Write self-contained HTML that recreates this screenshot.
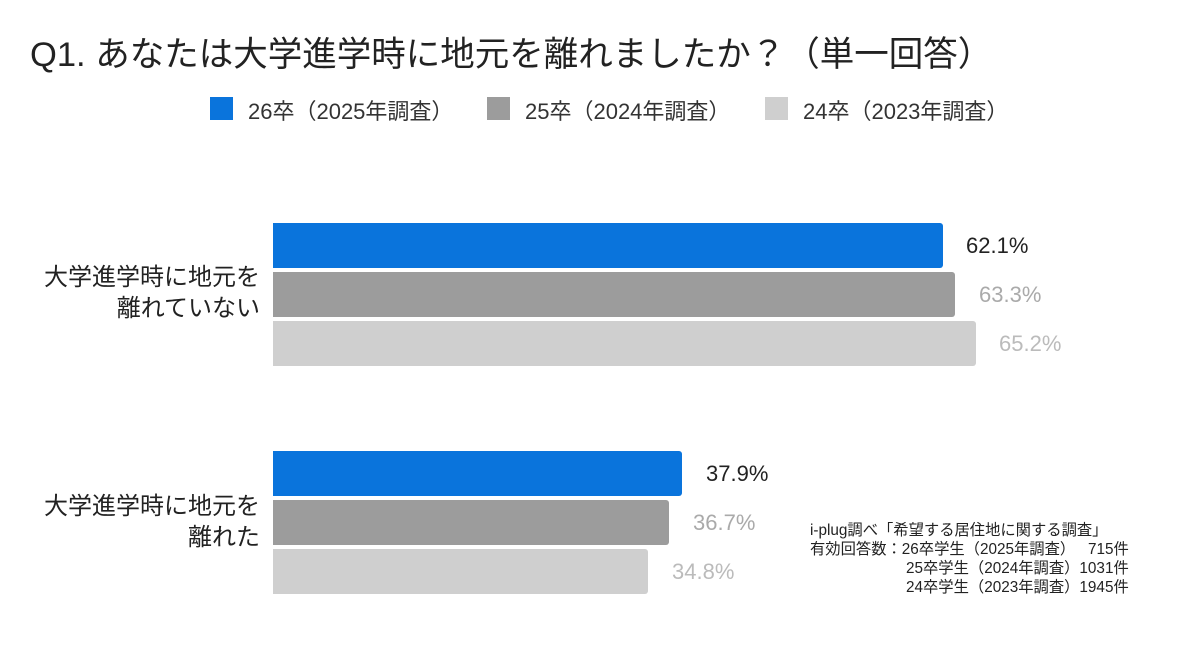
<!DOCTYPE html>
<html><head><meta charset="utf-8"><style>
body{margin:0;width:1200px;height:651px;background:#fff;position:relative;overflow:hidden;font-family:"Liberation Sans","Noto Sans CJK JP",sans-serif;color:#222}
.a{position:absolute;white-space:nowrap}
.bar{position:absolute;left:273px;height:45px;border-radius:0 3px 3px 0}
.b1{background:#0a74dc}.b2{background:#9c9c9c}.b3{background:#cfcfcf}
.v{position:absolute;font-size:22px}
.sq{position:absolute;top:97px;width:23px;height:23px}
.lg{position:absolute;top:94px;font-size:22px;color:#333}
.cat{position:absolute;right:940px;text-align:right;font-size:24px;line-height:31px;color:#222}
</style></head><body>
<div class="a" style="left:30px;top:26px;font-size:34.5px;color:#222">Q1. あなたは大学進学時に地元を離れましたか？（単一回答）</div>
<div class="sq b1" style="left:210px"></div><div class="lg" style="left:248px">26卒（2025年調査）</div>
<div class="sq b2" style="left:487px"></div><div class="lg" style="left:525px">25卒（2024年調査）</div>
<div class="sq b3" style="left:765px"></div><div class="lg" style="left:803px">24卒（2023年調査）</div>

<div class="cat" style="top:262px">大学進学時に地元を<br>離れていない</div>
<div class="cat" style="top:491px">大学進学時に地元を<br>離れた</div>

<div class="bar b1" style="top:223px;width:670px"></div>
<div class="bar b2" style="top:272px;width:682px"></div>
<div class="bar b3" style="top:321px;width:703px"></div>
<div class="v" style="left:966px;top:233px;color:#222">62.1%</div>
<div class="v" style="left:979px;top:282px;color:#aaa">63.3%</div>
<div class="v" style="left:999px;top:331px;color:#bbb">65.2%</div>

<div class="bar b1" style="top:451px;width:409px"></div>
<div class="bar b2" style="top:500px;width:396px"></div>
<div class="bar b3" style="top:549px;width:375px"></div>
<div class="v" style="left:706px;top:461px;color:#222">37.9%</div>
<div class="v" style="left:693px;top:510px;color:#aaa">36.7%</div>
<div class="v" style="left:672px;top:559px;color:#bbb">34.8%</div>

<div class="a" style="left:810px;top:521px;font-size:15.3px;line-height:19px;color:#222">i-plug調べ「希望する居住地に関する調査」<br>有効回答数：26卒学生（2025年調査）&nbsp;&nbsp;&nbsp;715件<br><span style="padding-left:96px">25卒学生（2024年調査）1031件</span><br><span style="padding-left:96px">24卒学生（2023年調査）1945件</span></div>
</body></html>
